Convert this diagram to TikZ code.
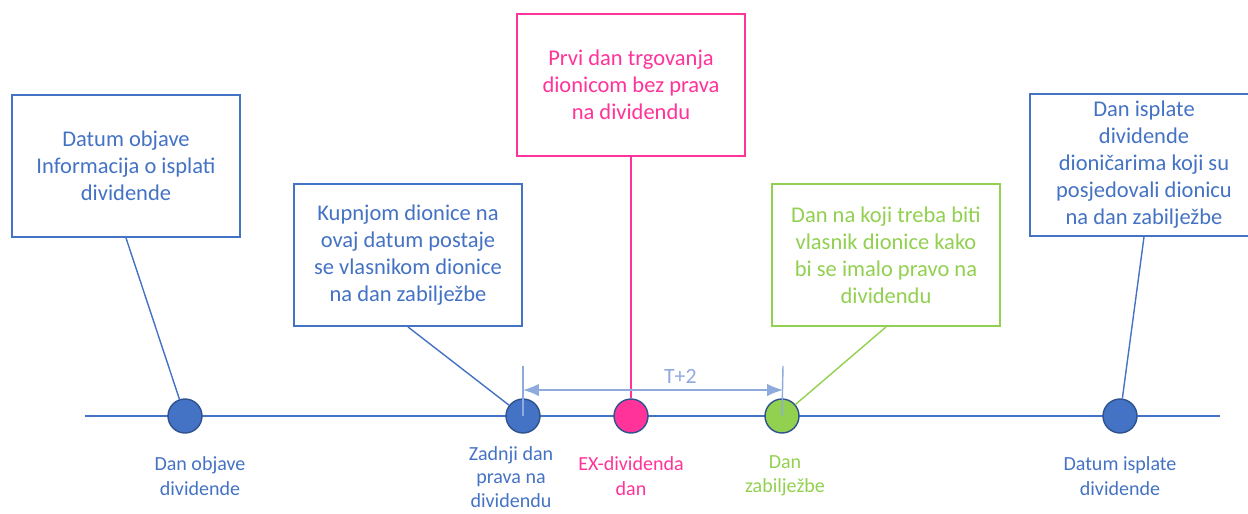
\documentclass[tikz,border=0pt]{standalone}
\usepackage{fontspec}
\setmainfont{Carlito}
\usepackage{tikz}
\usetikzlibrary{positioning,arrows.meta}
\definecolor{tlblue}{HTML}{4472C4}
\definecolor{tldark}{HTML}{2F528F}
\definecolor{tlpink}{HTML}{FF3399}
\definecolor{tlgreen}{HTML}{92D050}
\definecolor{tllight}{HTML}{8FAADC}
\tikzset{
  callout/.style={draw=#1,line width=1.1pt,fill=white,text=#1,align=center,
    minimum width=4.56cm,minimum height=2.84cm,
    font=\fontsize{12.8}{15.4}\selectfont},
  event/.style={shape=circle,minimum size=0.68cm,inner sep=0pt,fill=#1,draw=tldark,line width=0.8pt},
  datelabel/.style={text=#1,align=center,inner sep=1pt,font=\fontsize{11.4}{13.9}\selectfont},
  stem/.style={draw=#1,line width=0.8pt},
  tick/.style={draw=tllight,line width=0.8pt}
}
\begin{document}
\begin{tikzpicture}[x=0.02cm,y=-0.02cm]
      \useasboundingbox (0,0) rectangle (1248,514);
      \coordinate (tl) at (85,416);
      \coordinate (tr) at (1220,416);
      \draw[tlblue,line width=1.1pt] (tl) -- (tr);
      % events on the timeline
      \node[event=tlblue] (d1) at (185,416) {};
      \node[event=tlblue] (d2) at (523,416) {};
      \node[event=tlpink] (d3) at (631,416) {};
      \node[event=tlgreen] (d4) at (782,416) {};
      \node[event=tlblue] (d5) at (1120,416) {};
      % boxes
      \node[callout=tlblue] (b1) at (126,166) {Datum objave\\Informacija o isplati\\dividende};
      \node[callout=tlblue] (b2) at (408,255) {Kupnjom dionice na\\ovaj datum postaje\\se vlasnikom dionice\\na dan zabilježbe};
      \node[callout=tlpink] (b3) at (631,85) {Prvi dan trgovanja\\dionicom bez prava\\na dividendu};
      \node[callout=tlgreen] (b4) at (886,255) {Dan na koji treba biti\\vlasnik dionice kako\\bi se imalo pravo na\\dividendu};
      \node[callout=tlblue] (b5) at (1144,165) {Dan isplate\\dividende\\dioničarima koji su\\posjedovali dionicu\\na dan zabilježbe};
      \draw[stem=tlblue] (b1.south) -- (d1);
      \draw[stem=tlblue] (b2.south) -- (d2);
      \draw[stem=tlpink,line width=1.1pt] (b3.south) -- (d3);
      \draw[stem=tlgreen] (b4.south) -- (d4);
      \draw[stem=tlblue] (b5.south) -- (d5);
      % T+2
      \coordinate (t1) at (523,366);
      \coordinate (t2) at (783,366);
      \coordinate (a1) at (523,390);
      \coordinate (a2) at (783,390);
      \draw[tick] (t1) -- (d2.center);
      \draw[tick] (t2) -- (d4.center);
      \draw[tick,{Latex[length=9pt,width=7pt]}-{Latex[length=9pt,width=7pt]}] (a1) -- node[pos=0.605,above=0pt,text=tllight,font=\fontsize{12.4}{14}\selectfont] (tp) {T+2} (a2);
      % labels
      \node[datelabel=tlblue] (l1) at (200,476) {Dan objave\\dividende};
      \node[datelabel=tlblue,font=\fontsize{11.4}{13.4}\selectfont] (l2) at (511,477) {Zadnji dan\\prava na\\dividendu};
      \node[datelabel=tlpink] (l3) at (631,476) {EX-dividenda\\dan};
      \node[datelabel=tlgreen] (l4) at (785,476) {Dan\\zabilježbe};
      \node[datelabel=tlblue] (l5) at (1120,476) {Datum isplate\\dividende};
    \end{tikzpicture}
\end{document}
